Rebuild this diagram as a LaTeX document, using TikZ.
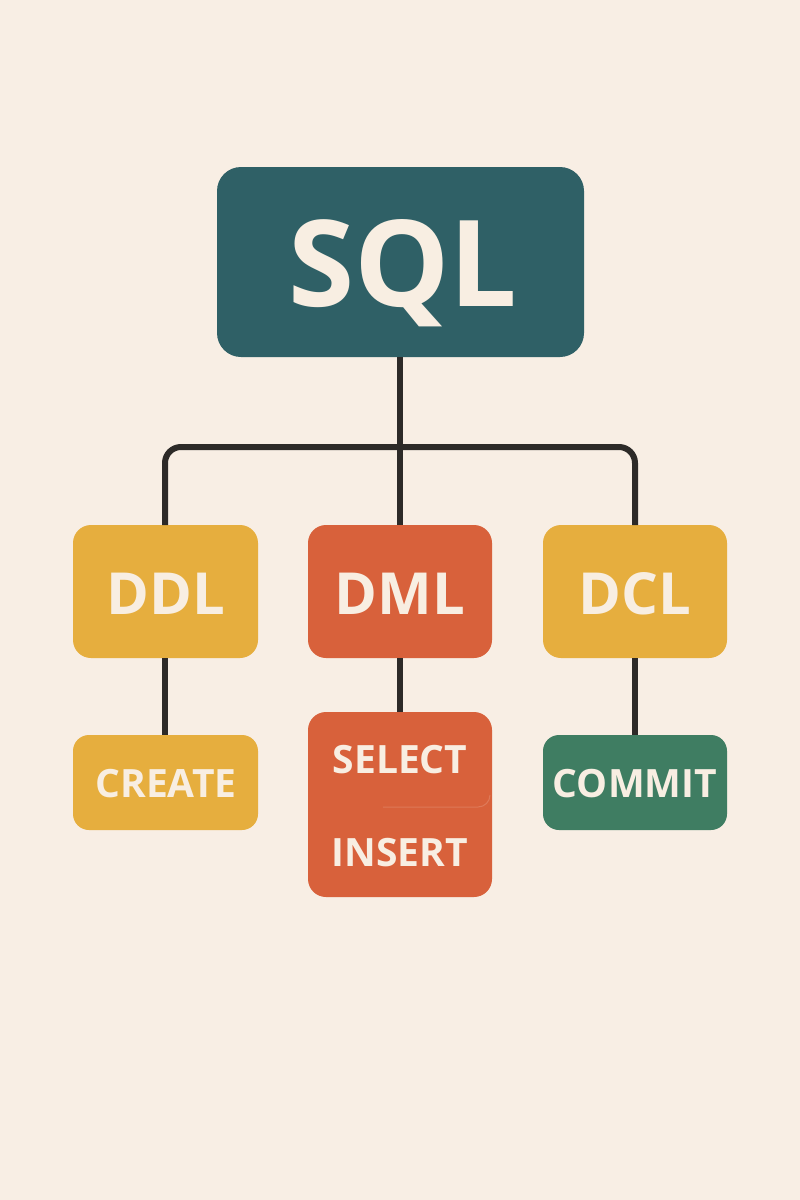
\documentclass[tikz,border=0pt]{standalone}
\usepackage{fontspec}
\setmainfont{Open Sans}[BoldFont={* Bold}]
\definecolor{bg}{HTML}{F8EEE4}
\definecolor{teal}{HTML}{2F6066}
\definecolor{gold}{HTML}{E6AE3E}
\definecolor{rust}{HTML}{D8613B}
\definecolor{pine}{HTML}{3F7D62}
\definecolor{ink}{HTML}{2D2A28}
\definecolor{cream}{HTML}{F8EEE2}
\begin{document}
\begin{tikzpicture}[x=1pt,y=-1pt,
  lbl/.style={text=cream,anchor=base,inner sep=0pt},
  big/.style={lbl,font=\bfseries\fontsize{58}{58}\selectfont},
  small/.style={lbl,font=\bfseries\fontsize{39}{39}\selectfont},
  wire/.style={draw=ink,line width=6pt,rounded corners=16pt}]
\fill[bg] (0,0) rectangle (800,1200);
\useasboundingbox (0,0) rectangle (800,1200);
% boxes
\fill[teal,rounded corners=24pt] (217,167) rectangle (584,357);
\node[lbl,font=\bfseries\fontsize{120}{120}\selectfont] (sql) at (403,306) {SQL};
\coordinate (sqlb) at (400,357);
\fill[gold,rounded corners=18pt] (73,525) rectangle (258,658);
\node[big] (ddl) at (166,614) {DDL};
\fill[rust,rounded corners=18pt] (308,525) rectangle (492,658);
\node[big] (dml) at (400,614) {DML};
\fill[gold,rounded corners=18pt] (543,525) rectangle (727,658);
\node[big] (dcl) at (635,614) {DCL};
\fill[gold,rounded corners=16pt] (73,735) rectangle (258,830);
\node[small] (create) at (166,797) {CREATE};
\fill[rust,rounded corners=18pt] (308,712) rectangle (492,897);
\draw[rust!85!white,line width=1pt] (383,807) -- (478,807) arc (-90:0:12pt);
\node[small] (select) at (400,773) {SELECT};
\node[small] (insert) at (400,866) {INSERT};
\fill[pine,rounded corners=16pt] (543,735) rectangle (727,830);
\node[small] (commit) at (635,797) {COMMIT};
% connectors
\coordinate (ddlt) at (165,525);
\coordinate (dmlt) at (400,525);
\coordinate (dclt) at (635,525);
\draw[wire] (ddlt) -- (165,447) -- (635,447) -- (dclt);
\draw[wire] (sqlb) -- (dmlt);
\draw[wire] (165,658) -- (165,735);
\draw[wire] (400,658) -- (400,712);
\draw[wire] (635,658) -- (635,735);
\end{tikzpicture}
\end{document}
